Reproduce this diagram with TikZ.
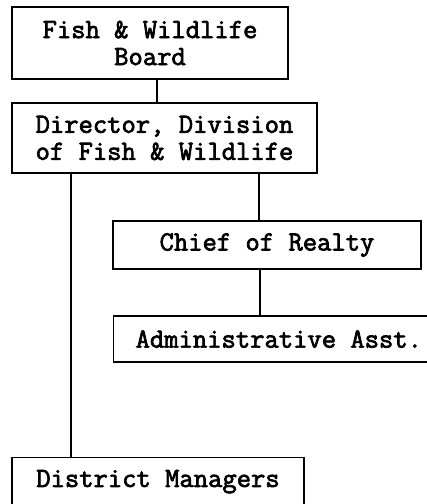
\documentclass[tikz,border=0pt]{standalone}
\usepackage{fontspec}
\newfontfamily\courfont{Latin Modern Mono}[FakeBold=2.5,AutoFakeBold=2.5]
\begin{document}
\begin{tikzpicture}[x=1pt,y=-1pt,
  box/.style={draw,line width=1.3pt,rectangle,inner sep=0pt,
    font=\courfont\bfseries\fontsize{27.8}{27}\selectfont},
  conn/.style={line width=1.4pt}]
\useasboundingbox (0,0) rectangle (427,504);
\node[box,minimum width=276pt,minimum height=72pt,align=center] (b1) at (150,43) {Fish \& Wildlife\\Board};
\node[box,minimum width=305pt,minimum height=70pt,align=center] (b2) at (164.5,138) {Director, Division\\of Fish \& Wildlife};
\node[box,minimum width=308pt,minimum height=48pt] (b3) at (267,245) {Chief of Realty};
\node[box,minimum height=46pt,inner xsep=22pt,anchor=west] (b4) at (113,339) {Administrative Asst.};
\node[box,minimum width=292pt,minimum height=48pt,anchor=north] (b5) at (158,457) {District Managers};
\coordinate (x1) at (157,0);
\coordinate (x2) at (71,0);
\coordinate (x3) at (259,0);
\coordinate (x4) at (260,0);
\draw[conn] (b1.south -| x1) -- (b2.north -| x1);
\draw[conn] (b2.south -| x2) -- (b5.north -| x2);
\draw[conn] (b2.south -| x3) -- (b3.north -| x3);
\draw[conn] (b3.south -| x4) -- (b4.north -| x4);
\end{tikzpicture}
\end{document}
